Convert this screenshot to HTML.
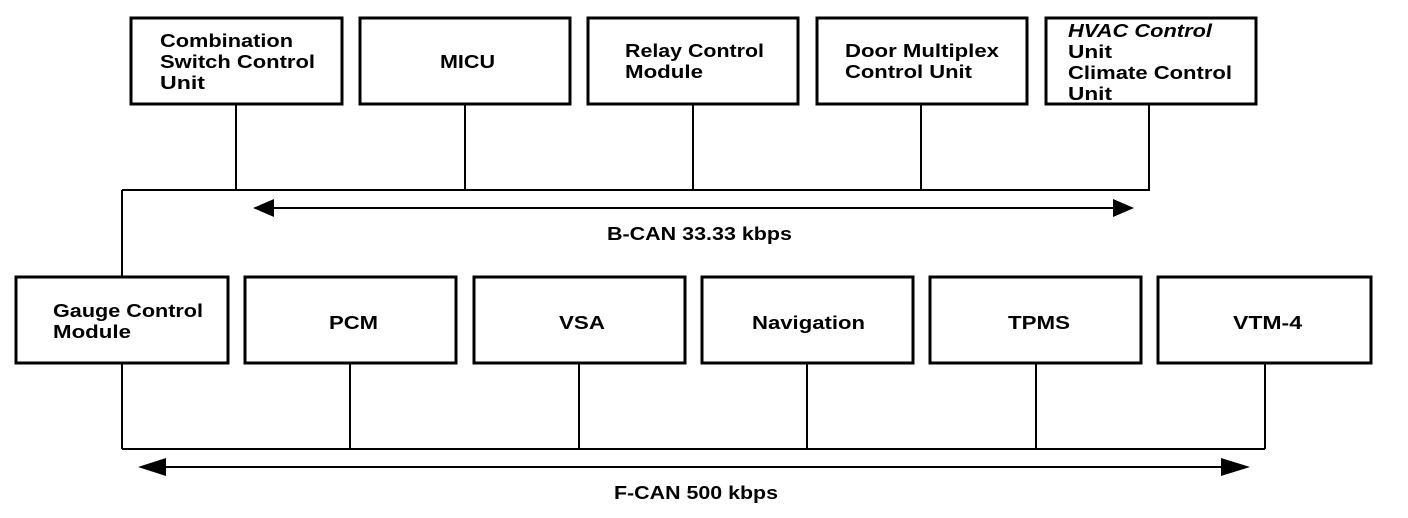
<!DOCTYPE html>
<html><head><meta charset="utf-8"><style>
html,body{margin:0;padding:0;background:#fff;}
svg{display:block;}
text{font-family:"Liberation Sans",Arial,sans-serif;font-weight:bold;font-size:18px;fill:#000;}
</style></head><body>
<svg width="1408" height="518" viewBox="0 0 1408 518" xmlns="http://www.w3.org/2000/svg">
<g fill="none" stroke="#000" stroke-width="3">
<rect x="131" y="18" width="211" height="86"/>
<rect x="360" y="18" width="210" height="86"/>
<rect x="588" y="18" width="210" height="86"/>
<rect x="817" y="18" width="210" height="86"/>
<rect x="1046" y="18" width="210" height="86"/>
<rect x="16" y="277" width="212" height="86"/>
<rect x="245" y="277" width="211" height="86"/>
<rect x="474" y="277" width="211" height="86"/>
<rect x="702" y="277" width="211" height="86"/>
<rect x="930" y="277" width="211" height="86"/>
<rect x="1158" y="277" width="213" height="86"/>
</g>
<g fill="none" stroke="#000" stroke-width="2">
<path d="M236 104V190M465 104V190M693 104V190M921 104V190M1149 104V190M122 190H1150M122 190V277"/>
<path d="M122 363V449M350 363V449M579 363V449M807 363V449M1036 363V449M1265 363V449M122 449H1265"/>
<line x1="270" y1="208" x2="1116" y2="208"/>
<line x1="162" y1="467" x2="1230" y2="467"/>
</g>
<g fill="#000">
<polygon points="253,208 274,199 274,217"/>
<polygon points="1134,208 1113,199 1113,217"/>
<polygon points="138,467 166,458 166,476"/>
<polygon points="1250,467 1221,458 1221,476"/>
</g>
<text x="160" y="47" textLength="133" lengthAdjust="spacingAndGlyphs">Combination</text>
<text x="160" y="68" textLength="155" lengthAdjust="spacingAndGlyphs">Switch Control</text>
<text x="160" y="89" textLength="45" lengthAdjust="spacingAndGlyphs">Unit</text>
<text x="440" y="68" textLength="55" lengthAdjust="spacingAndGlyphs">MICU</text>
<text x="625" y="57" textLength="139" lengthAdjust="spacingAndGlyphs">Relay Control</text>
<text x="625" y="78" textLength="78" lengthAdjust="spacingAndGlyphs">Module</text>
<text x="845" y="57" textLength="154" lengthAdjust="spacingAndGlyphs">Door Multiplex</text>
<text x="845" y="78" textLength="127" lengthAdjust="spacingAndGlyphs">Control Unit</text>
<text x="1068" y="37" textLength="144" lengthAdjust="spacingAndGlyphs" font-style="italic">HVAC Control</text>
<text x="1068" y="58" textLength="44" lengthAdjust="spacingAndGlyphs">Unit</text>
<text x="1068" y="79" textLength="164" lengthAdjust="spacingAndGlyphs">Climate Control</text>
<text x="1068" y="100" textLength="44" lengthAdjust="spacingAndGlyphs">Unit</text>
<text x="607" y="240" textLength="185" lengthAdjust="spacingAndGlyphs">B-CAN 33.33 kbps</text>
<text x="53" y="317" textLength="150" lengthAdjust="spacingAndGlyphs">Gauge Control</text>
<text x="53" y="338" textLength="78" lengthAdjust="spacingAndGlyphs">Module</text>
<text x="329" y="329" textLength="49" lengthAdjust="spacingAndGlyphs">PCM</text>
<text x="559" y="329" textLength="46" lengthAdjust="spacingAndGlyphs">VSA</text>
<text x="752" y="329" textLength="113" lengthAdjust="spacingAndGlyphs">Navigation</text>
<text x="1008" y="329" textLength="62" lengthAdjust="spacingAndGlyphs">TPMS</text>
<text x="1233" y="329" textLength="69" lengthAdjust="spacingAndGlyphs">VTM-4</text>
<text x="614" y="499" textLength="164" lengthAdjust="spacingAndGlyphs">F-CAN 500 kbps</text>
</svg>
</body></html>
